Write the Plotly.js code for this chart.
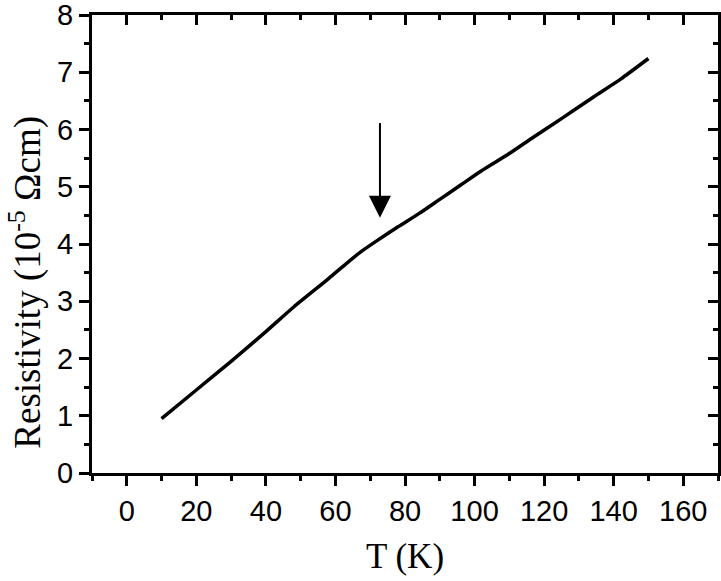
<!DOCTYPE html>
<html>
<head>
<meta charset="utf-8">
<script src="https://cdn.plot.ly/plotly-3.0.1.min.js"></script>
<style>
  body { margin: 0; background: #fff; }
  #chart { width: 721px; height: 581px; }
</style>
</head>
<body>
<div id="chart"></div>
<script>
// temperature (K) and resistivity (10^-5 Ohm cm)
var temperature = [10, 20, 30, 40, 48, 57.5, 62, 67, 72.5, 78, 84, 90, 96, 102, 110, 117, 125, 134, 142, 150];
var resistivity = [0.95, 1.45, 1.95, 2.47, 2.90, 3.37, 3.60, 3.85, 4.08, 4.30, 4.53, 4.78, 5.03, 5.28, 5.58, 5.87, 6.19, 6.56, 6.88, 7.24];

// arrow marking the kink
var arrowT = 72.8;
var arrowFrom = 6.14;
var arrowTo = 4.46;

var xRange = [-10, 170];
var yRange = [0, 8];

var numFont = {family: "Liberation Sans, Arial, sans-serif", size: 29, color: "#000"};
var titleFont = {family: "Liberation Serif, Times New Roman, serif", size: 35, color: "#000"};
var yTitleFont = {family: "Liberation Serif, Times New Roman, serif", size: 37, color: "#000"};

var data = [
    {
        type: "scatter",
        mode: "lines",
        x: temperature,
        y: resistivity,
        line: {color: "#000", width: 3.5, shape: "spline", smoothing: 0.6},
        hoverinfo: "x+y",
        showlegend: false
    },
    {
        // invisible copy so the mirrored top/right axes are drawn
        type: "scatter",
        mode: "lines",
        x: temperature,
        y: resistivity,
        xaxis: "x2",
        yaxis: "y2",
        line: {color: "rgba(0,0,0,0)", width: 0},
        hoverinfo: "skip",
        showlegend: false
    }
];

var layout = {
    width: 721,
    height: 581,
    margin: {l: 92, r: 3, t: 15, b: 108},
    paper_bgcolor: "#fff",
    plot_bgcolor: "#fff",
    xaxis: {
        range: xRange,
        tick0: 0,
        dtick: 20,
        ticks: "outside",
        ticklen: 10,
        tickwidth: 3,
        tickcolor: "#000",
        minor: {ticks: "outside", dtick: 10, ticklen: 5, tickwidth: 3, tickcolor: "#000"},
        showline: true,
        linewidth: 3,
        linecolor: "#000",
        showgrid: false,
        zeroline: false,
        tickfont: numFont,
        ticklabeloverflow: "allow",
        title: {text: "T (K)", font: titleFont, standoff: 18}
    },
    yaxis: {
        range: yRange,
        tick0: 0,
        dtick: 1,
        ticks: "outside",
        ticklen: 10,
        tickwidth: 3,
        tickcolor: "#000",
        minor: {ticks: "outside", dtick: 0.5, ticklen: 5, tickwidth: 3, tickcolor: "#000"},
        showline: true,
        linewidth: 3,
        linecolor: "#000",
        showgrid: false,
        zeroline: false,
        tickfont: numFont,
        ticklabeloverflow: "allow"
    },
    xaxis2: {
        overlaying: "x",
        side: "top",
        range: xRange,
        tick0: 0,
        dtick: 20,
        ticks: "inside",
        ticklen: 10,
        tickwidth: 3,
        tickcolor: "#000",
        minor: {ticks: "inside", dtick: 10, ticklen: 5, tickwidth: 3, tickcolor: "#000"},
        showticklabels: false,
        showline: true,
        linewidth: 3,
        linecolor: "#000",
        showgrid: false,
        zeroline: false
    },
    yaxis2: {
        overlaying: "y",
        side: "right",
        range: yRange,
        tick0: 0,
        dtick: 1,
        ticks: "inside",
        ticklen: 10,
        tickwidth: 3,
        tickcolor: "#000",
        minor: {ticks: "inside", dtick: 0.5, ticklen: 5, tickwidth: 3, tickcolor: "#000"},
        showticklabels: false,
        showline: true,
        linewidth: 3,
        linecolor: "#000",
        showgrid: false,
        zeroline: false
    },
    annotations: [
        {
            x: arrowT,
            y: arrowTo,
            ax: arrowT,
            ay: arrowFrom,
            xref: "x",
            yref: "y",
            axref: "x",
            ayref: "y",
            text: "",
            showarrow: true,
            arrowhead: 2,
            arrowsize: 2.2,
            arrowwidth: 2,
            arrowcolor: "#000"
        },
        {
            text: "Resistivity (10<sup>-5</sup> Ωcm)",
            xref: "paper",
            yref: "paper",
            x: -0.106,
            y: 0.417,
            xanchor: "center",
            yanchor: "middle",
            textangle: -90,
            showarrow: false,
            font: yTitleFont
        }
    ]
};

Plotly.newPlot("chart", data, layout, {displayModeBar: false, staticPlot: true});
</script>
</body>
</html>
